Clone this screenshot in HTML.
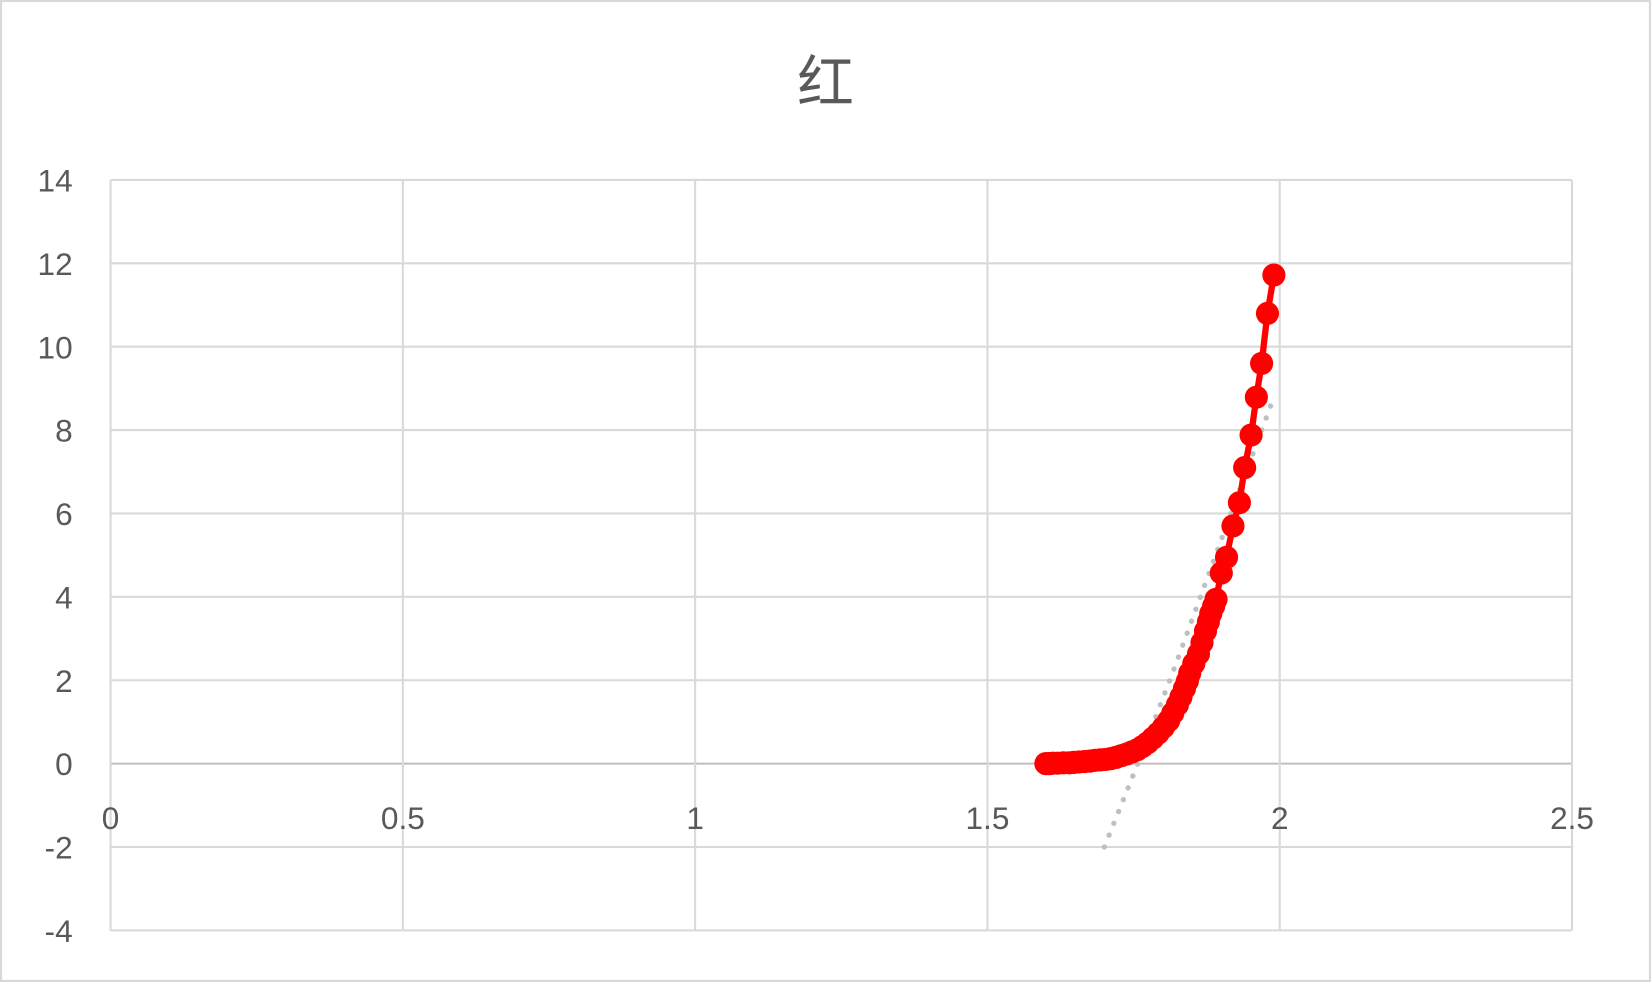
<!DOCTYPE html>
<html><head><meta charset="utf-8"><style>
html,body{margin:0;padding:0;background:#fff;}
svg{display:block;font-family:"Liberation Sans","Noto Sans CJK SC",sans-serif;}
</style></head><body>
<svg id="chart" width="1651" height="983" viewBox="0 0 1568 934" preserveAspectRatio="none" xmlns="http://www.w3.org/2000/svg">
<rect x="1" y="1" width="1566" height="931" fill="#fff" stroke="#d9d9d9" stroke-width="2"/>
<text x="784" y="97" font-size="54" fill="#595959" text-anchor="middle" font-family="'Noto Sans CJK SC',sans-serif">红</text>
<g id="grid"></g>
<g id="ticks"></g>
<g id="series"></g>
</svg>
<script>
const xTicks=[0,0.5,1,1.5,2,2.5];
const xTickLabels=["0","0.5","1","1.5","2","2.5"];
const yTicks=[-4,-2,0,2,4,6,8,10,12,14];
const yTickLabels=["-4","-2","0","2","4","6","8","10","12","14"];
const xValues=[1.600,1.606,1.612,1.620,1.630,1.640,1.648,1.657,1.666,1.675,1.684,1.693,1.702,1.711,1.720,1.729,1.738,1.747,1.756,1.765,1.774,1.783,1.792,1.801,1.810,1.817,1.825,1.831,1.837,1.842,1.846,1.853,1.861,1.867,1.873,1.878,1.882,1.887,1.891,1.900,1.909,1.920,1.931,1.940,1.951,1.960,1.969,1.979,1.990];
const yValues=[0.00,0.00,0.01,0.01,0.02,0.02,0.03,0.04,0.05,0.06,0.08,0.09,0.10,0.12,0.15,0.19,0.23,0.28,0.33,0.41,0.50,0.61,0.73,0.87,1.03,1.21,1.41,1.60,1.80,1.98,2.17,2.40,2.63,2.90,3.18,3.40,3.60,3.78,3.94,4.57,4.95,5.70,6.26,7.10,7.88,8.79,9.60,10.80,11.72];
const trendX=[1.700,1.760,1.820,1.880,1.940,1.990];
const trendY=[-2.0,0.1,2.3,4.6,6.9,8.79];

const X0=105,X1=1493,Y0=884,Y1=171,xmin=0,xmax=2.5,ymin=-4,ymax=14;
const sx=v=>X0+(v-xmin)/(xmax-xmin)*(X1-X0);
const sy=v=>Y0-(v-ymin)/(ymax-ymin)*(Y0-Y1);
const NS="http://www.w3.org/2000/svg";
function mk(tag,attrs,parent){const e=document.createElementNS(NS,tag);for(const k in attrs)e.setAttribute(k,attrs[k]);parent.appendChild(e);return e;}
const grid=document.getElementById('grid'),ticks=document.getElementById('ticks'),series=document.getElementById('series');
yTicks.forEach((t,i)=>{
  const l=mk('line',{x1:X0,x2:X1,y1:sy(t),y2:sy(t),stroke:t===0?'#bfbfbf':'#d9d9d9','stroke-width':2},grid);
  
  
  const tx=mk('text',{x:69,y:sy(t)+11,'font-size':30,fill:'#595959','text-anchor':'end'},ticks);
  tx.textContent=yTickLabels[i];
  
  
});
xTicks.forEach((t,i)=>{
  const l=mk('line',{x1:sx(t),x2:sx(t),y1:Y1,y2:Y0,stroke:'#d9d9d9','stroke-width':2},grid);
  
  
  const tx=mk('text',{x:sx(t),y:sy(0)+62,'font-size':30,fill:'#595959','text-anchor':'middle'},ticks);
  tx.textContent=xTickLabels[i];
  
  
});
const tr=mk('polyline',{points:trendX.map((x,i)=>sx(x)+','+sy(trendY[i])).join(' '),fill:'none',stroke:'#bfbfbf','stroke-width':5,'stroke-dasharray':'0.1 12','stroke-linecap':'round'},series);


const ln=mk('polyline',{points:xValues.map((x,i)=>sx(x)+','+sy(yValues[i])).join(' '),fill:'none',stroke:'#ff0000','stroke-width':6,'stroke-linejoin':'round'},series);


xValues.forEach((x,i)=>{
  const c=mk('circle',{cx:sx(x),cy:sy(yValues[i]),r:11,fill:'#ff0000'},series);
  
  
});
</script>
</body></html>
